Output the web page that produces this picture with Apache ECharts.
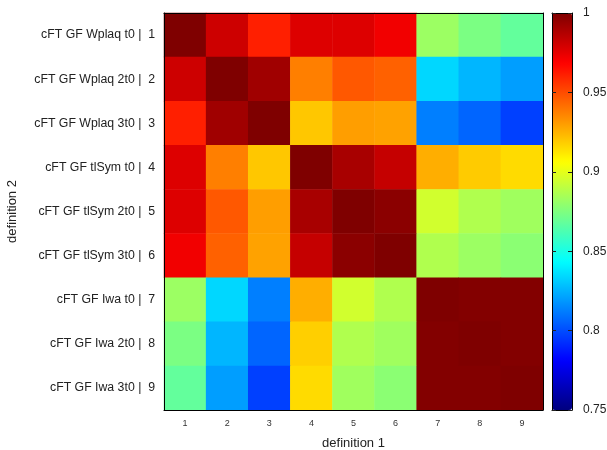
<!DOCTYPE html>
<html>
<head>
<meta charset="utf-8">
<script src="https://cdn.jsdelivr.net/npm/echarts@6/dist/echarts.min.js"></script>
<style>html,body{margin:0;padding:0;background:#fff;}#c{width:607px;height:450px;}</style>
</head>
<body>
<div id="c"></div>
<script>
var xCategories = ['1','2','3','4','5','6','7','8','9'];
var yCategories = [
  'cFT GF Wplaq t0 |  1',
  'cFT GF Wplaq 2t0 |  2',
  'cFT GF Wplaq 3t0 |  3',
  'cFT GF tlSym t0 |  4',
  'cFT GF tlSym 2t0 |  5',
  'cFT GF tlSym 3t0 |  6',
  'cFT GF Iwa t0 |  7',
  'cFT GF Iwa 2t0 |  8',
  'cFT GF Iwa 3t0 |  9'
];
var row1 = [1.000, 0.981, 0.961, 0.977, 0.977, 0.972, 0.882, 0.874, 0.868];
var row2 = [0.981, 1.000, 0.992, 0.9375, 0.947, 0.945, 0.834, 0.826, 0.820];
var row3 = [0.961, 0.992, 1.000, 0.920, 0.930, 0.929, 0.8125, 0.806, 0.797];
var row4 = [0.977, 0.9375, 0.920, 1.000, 0.990, 0.983, 0.926, 0.919, 0.915];
var row5 = [0.977, 0.947, 0.930, 0.990, 1.000, 0.997, 0.895, 0.887, 0.883];
var row6 = [0.972, 0.945, 0.929, 0.983, 0.997, 1.000, 0.887, 0.882, 0.878];
var row7 = [0.882, 0.834, 0.8125, 0.926, 0.895, 0.887, 1.000, 0.999, 0.999];
var row8 = [0.874, 0.826, 0.806, 0.918, 0.887, 0.883, 0.999, 1.000, 0.999];
var row9 = [0.868, 0.820, 0.797, 0.915, 0.883, 0.878, 0.999, 0.999, 1.000];
var colorbarTicks = [0.75, 0.8, 0.85, 0.9, 0.95, 1];

var rows = [row1, row2, row3, row4, row5, row6, row7, row8, row9];
var data = [];
rows.forEach(function (r, yi) { r.forEach(function (v, xi) { data.push([xi, yi, v]); }); });

var jet = ['#00007f','#0000ff','#007fff','#00ffff','#7fff7f','#ffff00','#ff7f00','#ff0000','#7f0000'];
var font = 'Liberation Sans, Arial, Helvetica, sans-serif';

var chart = echarts.init(document.getElementById('c'), null, {renderer: 'canvas'});
chart.setOption({
  backgroundColor: '#fff',
  animation: false,
  textStyle: {fontFamily: font},
  grid: [
    {left: 164, top: 13, width: 379, height: 397, show: false, containLabel: false, outerBoundsMode: 'none'},
    {left: 552, top: 13, width: 20, height: 397, show: false, containLabel: false, outerBoundsMode: 'none'}
  ],
  xAxis: [
    {type: 'category', data: xCategories, gridIndex: 0, position: 'bottom', z: 5,
     name: 'definition 1', nameLocation: 'middle', nameGap: 27,
     nameTextStyle: {fontSize: 13, color: '#222', fontFamily: font},
     axisLine: {show: true, lineStyle: {color: '#000', width: 1}},
     axisTick: {show: false},
     axisLabel: {fontSize: 9, color: '#333', margin: 9, fontFamily: font},
     splitLine: {show: false}},
    {type: 'category', data: xCategories, gridIndex: 0, position: 'top', z: 5,
     axisLine: {show: true, lineStyle: {color: '#000', width: 1}},
     axisTick: {show: false}, axisLabel: {show: false}},
    {type: 'value', gridIndex: 1, min: 0, max: 1, position: 'bottom', z: 5,
     axisLine: {show: true, onZero: false, lineStyle: {color: '#000'}},
     axisTick: {show: false}, axisLabel: {show: false}, splitLine: {show: false}},
    {type: 'value', gridIndex: 1, min: 0, max: 1, position: 'top', z: 5,
     axisLine: {show: true, onZero: false, lineStyle: {color: '#000'}},
     axisTick: {show: false}, axisLabel: {show: false}, splitLine: {show: false}}
  ],
  yAxis: [
    {type: 'category', data: yCategories, gridIndex: 0, inverse: true, position: 'left', z: 5,
     name: 'definition 2', nameLocation: 'middle', nameGap: 145,
     nameTextStyle: {fontSize: 13, color: '#222', fontFamily: font},
     axisLine: {show: true, lineStyle: {color: '#000', width: 1}},
     axisTick: {show: false},
     axisLabel: {fontSize: 12.3, color: '#222', margin: 9, fontFamily: font},
     splitLine: {show: false}},
    {type: 'category', data: yCategories, gridIndex: 0, inverse: true, position: 'right', z: 5,
     axisLine: {show: true, lineStyle: {color: '#000', width: 1}},
     axisTick: {show: false}, axisLabel: {show: false}},
    {type: 'value', gridIndex: 1, min: 0.75, max: 1, interval: 0.05, position: 'right', z: 5,
     axisLine: {show: true, onZero: false, lineStyle: {color: '#000'}},
     axisTick: {show: true, inside: true, length: 4, lineStyle: {color: '#222'}},
     axisLabel: {fontSize: 12, color: '#222', margin: 11, fontFamily: font,
       formatter: function (v) { return String(+v.toFixed(2)); }},
     splitLine: {show: false}},
    {type: 'value', gridIndex: 1, min: 0.75, max: 1, interval: 0.05, position: 'left', z: 5,
     axisLine: {show: true, onZero: false, lineStyle: {color: '#000'}},
     axisTick: {show: true, inside: true, length: 4, lineStyle: {color: '#222'}},
     axisLabel: {show: false}, splitLine: {show: false}}
  ],
  visualMap: {
    type: 'continuous', min: colorbarTicks[0], max: colorbarTicks[colorbarTicks.length - 1],
    calculable: false, orient: 'vertical', left: 552, top: 13, itemWidth: 20, itemHeight: 397,
    padding: 0, text: null, inRange: {color: jet}, seriesIndex: 0, hoverLink: false
  },
  series: [{
    type: 'heatmap', xAxisIndex: 0, yAxisIndex: 0, data: data,
    itemStyle: {borderWidth: 0}, emphasis: {disabled: true}
  }]
});
</script>
</body>
</html>
